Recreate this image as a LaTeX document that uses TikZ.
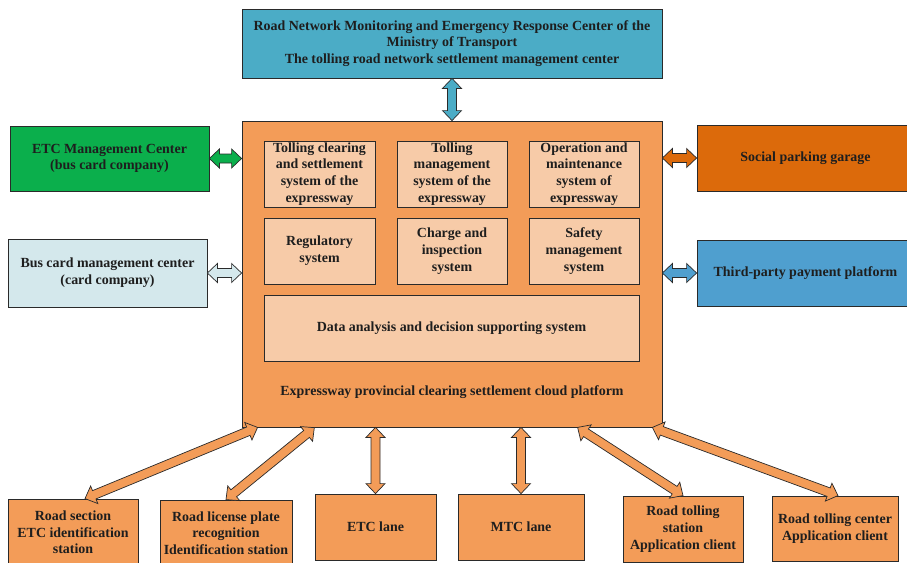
\documentclass[tikz,border=0pt]{standalone}
\usepackage{fontspec}
\setmainfont{Liberation Serif}
\usetikzlibrary{calc}

\definecolor{linec}{HTML}{2A2A2A}
\definecolor{txtc}{HTML}{1E1E1E}
\definecolor{topblue}{HTML}{4BACC6}
\definecolor{platorange}{HTML}{F39C58}
\definecolor{innerpeach}{HTML}{F7CBA8}
\definecolor{etcgreen}{HTML}{0BAF4C}
\definecolor{paleblue}{HTML}{D4E8EC}
\definecolor{garageorange}{HTML}{DC6A0B}
\definecolor{paymentblue}{HTML}{4F9FCF}

% double-headed block arrow between two named points
\newcommand\blockarrow[3]{%
  \filldraw[fill=#1, draw=linec, line width=0.7pt, line join=miter]
    let \p1=($(#3)-(#2)$), \n1={veclen(\x1,\y1)}, \n2={atan2(\y1,\x1)} in
    [shift={(#2)}, rotate=\n2]
    (0pt,0pt) -- (10pt,9.5pt) -- (10pt,4.5pt) -- ({\n1-10pt},4.5pt)
    -- ({\n1-10pt},9.5pt) -- (\n1,0pt) -- ({\n1-10pt},-9.5pt)
    -- ({\n1-10pt},-4.5pt) -- (10pt,-4.5pt) -- (10pt,-9.5pt) -- cycle;
}

\tikzset{
  labelfont/.style={text=txtc, font=\fontsize{13.95}{16.7}\selectfont\bfseries},
  box/.style={draw=linec, line width=0.8pt, inner sep=0pt, align=center, labelfont},
  inner/.style={box, fill=innerpeach},
  station/.style={box, fill=platorange},
}

\begin{document}
\begin{tikzpicture}[x=1pt, y=-1pt]
\useasboundingbox (0,0) rectangle (907,562);
\begin{scope}
\clip (0,0) rectangle (907,562);

% top-level center
\node[box, fill=topblue, minimum width=420pt, minimum height=69pt] (top) at (452,43.5)
  {Road Network Monitoring and Emergency Response Center of the\\ Ministry of Transport\\ The tolling road network settlement management center};

% provincial platform
\node[box, fill=platorange, minimum width=420pt, minimum height=306pt] (main) at (452,274) {};
\node[inner, minimum width=111pt, minimum height=66pt] (s1) at (319.5,174)
  {Tolling clearing\\ and settlement\\ system of the\\ expressway};
\node[inner, minimum width=110pt, minimum height=66pt] (s2) at (452,174)
  {Tolling\\ management\\ system of the\\ expressway};
\node[inner, minimum width=110pt, minimum height=66pt] (s3) at (584,174)
  {Operation and\\ maintenance\\ system of\\ expressway};
\node[inner, minimum width=111pt, minimum height=66pt] (s4) at (319.5,251)
  {Regulatory\\ system};
\node[inner, minimum width=110pt, minimum height=66pt] (s5) at (452,251)
  {Charge and\\ inspection\\ system};
\node[inner, minimum width=110pt, minimum height=66pt] (s6) at (584,251)
  {Safety\\ management\\ system};
\node[inner, minimum width=375pt, minimum height=66pt] (s7) at (451.5,328)
  {Data analysis and decision supporting system};
\node[align=center, labelfont] (plat) at (452,392)
  {Expressway provincial clearing settlement cloud platform};

% side partners
\node[box, fill=etcgreen, minimum width=199pt, minimum height=65pt] (etcm) at (109.5,158.5)
  {ETC Management Center\\ (bus card company)};
\node[box, fill=paleblue, minimum width=199pt, minimum height=68pt] (bcm) at (107.5,273)
  {Bus card management center\\ (card company)};
\node[box, fill=garageorange, minimum width=217pt, minimum height=66pt] (spg) at (805.5,158)
  {Social parking garage};
\node[box, fill=paymentblue, minimum width=217pt, minimum height=66pt] (tpp) at (805.5,273)
  {Third-party payment platform};

% field-level stations
\node[station, minimum width=130pt, minimum height=67pt] (rs) at (73,532.5)
  {Road section\\ ETC identification\\ station};
\node[station, minimum width=132pt, minimum height=66pt] (lp) at (226,533)
  {Road license plate\\ recognition\\ Identification station};
\node[station, minimum width=121pt, minimum height=66pt] (etc) at (375.5,527)
  {ETC lane};
\node[station, minimum width=126pt, minimum height=66pt] (mtc) at (521,527)
  {MTC lane};
\node[station, minimum width=120pt, minimum height=66pt] (rts) at (683,529)
  {Road tolling\\ station\\ Application client};
\node[station, minimum width=126pt, minimum height=65pt] (rtc) at (835,528.5)
  {Road tolling center\\ Application client};

% connector end points
\coordinate (a0) at (top.south |- main.north);
\coordinate (l1) at (etcm.east -| main.west);
\coordinate (l2) at (bcm.east -| main.west);
\coordinate (r1) at (spg.west -| main.east);
\coordinate (r2) at (tpp.west -| main.east);
\coordinate (b1) at ($(main.south west)+(16,0)$);
\coordinate (b2) at ($(main.south west)+(73,0)$);
\coordinate (b3) at (etc.north |- main.south);
\coordinate (b4) at (mtc.north |- main.south);
\coordinate (b5) at ($(main.south west)+(336,0)$);
\coordinate (b6) at ($(main.south east)+(-10,0)$);
\coordinate (rsn) at ($(rs.north)+(12,0)$);
\coordinate (rtcn) at ($(rtc.north)+(3,0)$);

% connectors
\blockarrow{topblue}{top.south}{a0}
\blockarrow{etcgreen}{etcm.east}{l1}
\blockarrow{paleblue}{bcm.east}{l2}
\blockarrow{garageorange}{spg.west}{r1}
\blockarrow{paymentblue}{tpp.west}{r2}
\blockarrow{platorange}{rsn}{b1}
\blockarrow{platorange}{lp.north}{b2}
\blockarrow{platorange}{etc.north}{b3}
\blockarrow{platorange}{mtc.north}{b4}
\blockarrow{platorange}{rts.north}{b5}
\blockarrow{platorange}{rtcn}{b6}
\end{scope}
\end{tikzpicture}
\end{document}
